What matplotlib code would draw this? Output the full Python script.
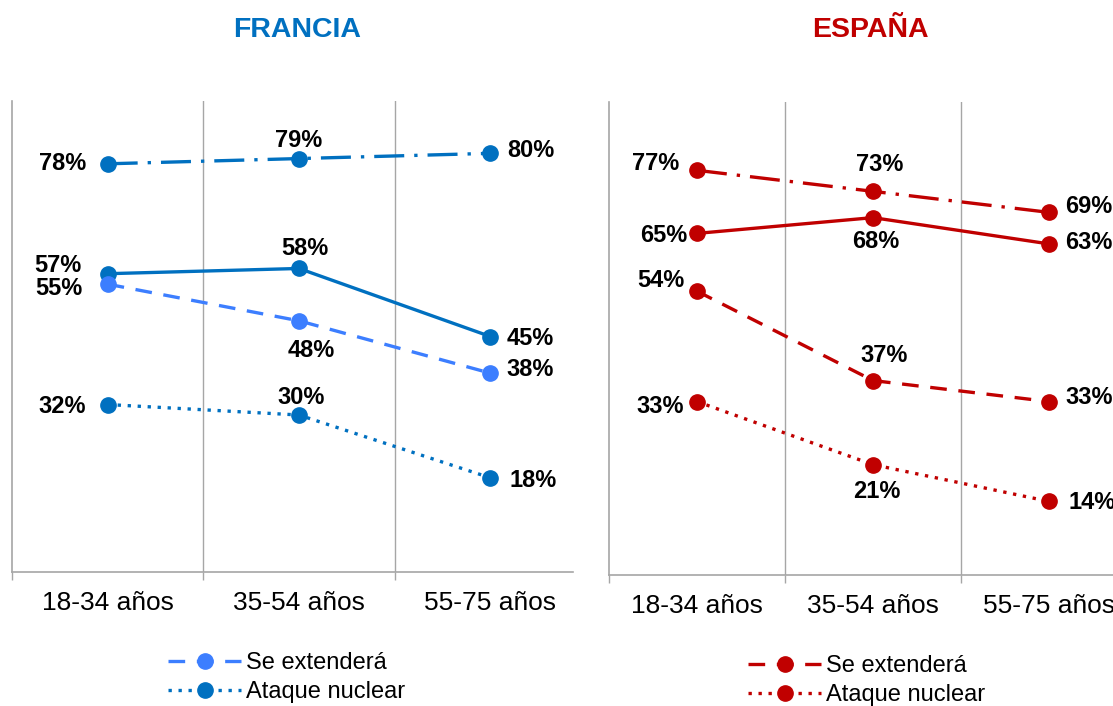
import matplotlib.pyplot as plt
import numpy as np

plt.rcParams['font.family'] = ['Liberation Sans', 'DejaVu Sans']

# Categories and values
categories = ['18-34 años', '35-54 años', '55-75 años']

fr_dashdot = [78, 79, 80]
fr_solid = [57, 58, 45]
fr_extend = [55, 48, 38]   # Se extenderá
fr_nuclear = [32, 30, 18]  # Ataque nuclear

es_dashdot = [77, 73, 69]
es_solid = [65, 68, 63]
es_extend = [54, 37, 33]
es_nuclear = [33, 21, 14]

legend_labels = ['Se extenderá', 'Ataque nuclear']

BLUE = '#0070C0'
LIGHT_BLUE = '#3C7EFF'
RED = '#C00000'
GRID = '#A6A6A6'

W, H = 1113, 706
fig = plt.figure(figsize=(W / 100, H / 100), dpi=100)

def px_axes(x0, x1, ytop, ybot):
    return fig.add_axes([x0 / W, 1 - ybot / H, (x1 - x0) / W, (ybot - ytop) / H])

ax_fr = px_axes(12, 586, 101, 572)
ax_es = px_axes(609, 1137, 102, 575)

# label offsets in pixels (dx, dy, ha) for each point of each series
fr_offsets = [
    [(-21, 0, 'right'), (0, 18, 'center'), (17, 3, 'left')],
    [(-26, 8, 'right'), (6, 20, 'center'), (16, -2, 'left')],
    [(-25, -4, 'right'), (12, -30, 'center'), (16, 4, 'left')],
    [(-22, -2, 'right'), (2, 18, 'center'), (19, -3, 'left')],
]
es_offsets = [
    [(-18, 7, 'right'), (7, 27, 'center'), (16, 6, 'left')],
    [(-10, -2, 'right'), (3, -24, 'center'), (16, 1, 'left')],
    [(-13, 11, 'right'), (11, 25, 'center'), (16, 4, 'left')],
    [(-13, -5, 'right'), (4, -27, 'center'), (19, -1, 'left')],
]

dashdot = (0, (9, 3, 1, 3))
dashed = (0, (5, 3.5))
dotted = (0, (1, 2))

def draw_panel(ax, series, colors, offsets):
    x = np.arange(len(categories))
    styles = [dashdot, '-', dashed, dotted]
    lines = []
    for vals, col, ls, offs in zip(series, colors, styles, offsets):
        ln, = ax.plot(x, vals, color=col, linestyle=ls, linewidth=2.4,
                      marker='o', markersize=11, zorder=3)
        lines.append(ln)
        for xi, v, (dx, dy, ha) in zip(x, vals, offs):
            ax.annotate(f'{v}%', (xi, v), xytext=(dx, dy), textcoords='offset pixels',
                        ha=ha, va='center', fontsize=17, fontweight='bold', color='black')
    ax.set_xlim(-0.5, 2.5)
    ax.set_ylim(0, 90)
    ax.set_yticks([])
    ax.set_xticks(x)
    ax.set_xticklabels(categories, fontsize=19)
    ax.set_xticks([-0.5, 0.5, 1.5], minor=True)
    ax.tick_params(axis='x', which='major', length=0, pad=14)
    ax.tick_params(axis='x', which='minor', length=6, color=GRID, width=1)
    for xv in [0.5, 1.5]:
        ax.axvline(xv, color=GRID, linewidth=1, zorder=1)
    for s in ['top', 'right']:
        ax.spines[s].set_visible(False)
    for s in ['left', 'bottom']:
        ax.spines[s].set_color(GRID)
        ax.spines[s].set_linewidth(1.2)
    ax.spines['bottom'].set_bounds(-0.5, 2.43)
    return lines

fr_lines = draw_panel(ax_fr, [fr_dashdot, fr_solid, fr_extend, fr_nuclear],
                      [BLUE, BLUE, LIGHT_BLUE, BLUE], fr_offsets)
es_lines = draw_panel(ax_es, [es_dashdot, es_solid, es_extend, es_nuclear],
                      [RED, RED, RED, RED], es_offsets)

fig.text(297 / W, 1 - 30 / H, 'FRANCIA', ha='center', va='center',
         fontsize=20.5, fontweight='bold', color=BLUE)
fig.text(870 / W, 1 - 30 / H, 'ESPAÑA', ha='center', va='center',
         fontsize=20.5, fontweight='bold', color=RED)

legend_kw = dict(frameon=False, fontsize=17, handlelength=3.1, handletextpad=0.2,
                 labelspacing=0.3, borderpad=0, borderaxespad=0, loc='upper left')
fig.legend(fr_lines[2:], legend_labels, bbox_to_anchor=(168 / W, 1 - 652 / H), **legend_kw)
fig.legend(es_lines[2:], legend_labels, bbox_to_anchor=(748 / W, 1 - 655 / H), **legend_kw)

fig.savefig('out.png', dpi=100)
